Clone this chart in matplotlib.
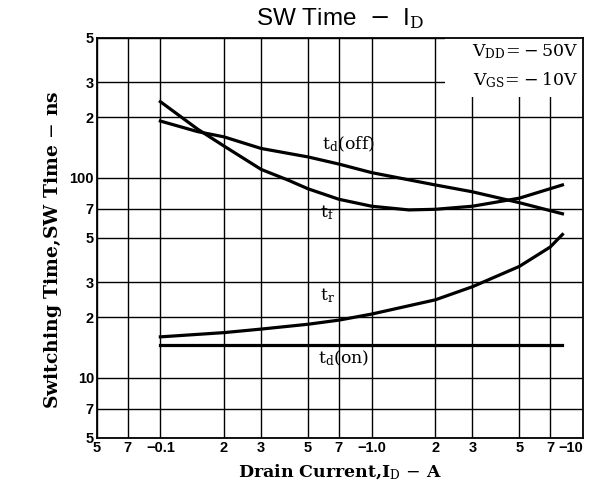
import matplotlib
matplotlib.use("Agg")
import matplotlib.pyplot as plt
from matplotlib.patches import Rectangle

# Switching time vs drain current (log-log)
id_off = [0.1, 0.15, 0.2, 0.3, 0.5, 0.7, 1.0, 2.0, 3.0, 5.0, 8.0]
td_off = [192, 170, 160, 140, 127, 117, 106, 92, 85, 75, 66]

id_f = [0.1, 0.15, 0.2, 0.3, 0.4, 0.5, 0.7, 1.0, 1.5, 2.0, 3.0, 5.0, 8.0]
t_f = [240, 175, 144, 110, 97.5, 88, 78, 72, 69, 69.5, 72, 79, 92]

id_r = [0.1, 0.2, 0.3, 0.5, 0.7, 1.0, 2.0, 3.0, 5.0, 7.0, 8.0]
t_r = [16.0, 16.8, 17.5, 18.5, 19.4, 20.8, 24.5, 28.5, 36, 45, 52]

id_on = [0.1, 8.0]
td_on = [14.5, 14.5]

xticks = [0.05, 0.07, 0.1, 0.2, 0.3, 0.5, 0.7, 1.0, 2, 3, 5, 7, 10]
xlabels = ["5", "7", "\u22120.1", "2", "3", "5", "7", "\u22121.0", "2", "3", "5", "7", "\u221210"]
yticks = [5, 7, 10, 20, 30, 50, 70, 100, 200, 300, 500]
ylabels = ["5", "7", "10", "2", "3", "5", "7", "100", "2", "3", "5"]

plt.rcParams['mathtext.fontset'] = 'dejavuserif'

fig = plt.figure(figsize=(5.9, 4.86), dpi=100)
ax = fig.add_axes([0.164, 0.099, 0.824, 0.823])
ax.set_xscale('log')
ax.set_yscale('log')
ax.set_xlim(0.05, 10)
ax.set_ylim(5, 500)

ax.set_xticks(xticks)
ax.set_xticklabels(xlabels, family='Liberation Sans', fontsize=10.5, fontweight='bold')
ax.get_xticklabels()[-1].set_horizontalalignment('right')
ax.set_yticks(yticks)
ax.set_yticklabels(ylabels, family='Liberation Sans', fontsize=10.5, fontweight='bold')
ax.minorticks_off()
ax.tick_params(length=0, pad=2)
ax.grid(True, color='black', lw=1.0)
for s in ax.spines.values():
    s.set_linewidth(1.3)

# blank patch behind the conditions text
ax.add_patch(Rectangle((0.716, 0.8525), 0.3, 0.2, transform=ax.transAxes,
                       facecolor='white', edgecolor='none', zorder=2.5))

lw = 2.3
ax.plot(id_off, td_off, color='black', lw=lw, zorder=3)
ax.plot(id_f, t_f, color='black', lw=lw, zorder=3)
ax.plot(id_r, t_r, color='black', lw=lw, zorder=3)
ax.plot(id_on, td_on, color='black', lw=lw, zorder=3)

tfont = dict(family='DejaVu Serif', fontsize=12.5, transform=ax.transAxes, va='center', zorder=4)
ax.text(0.463, 0.733, r'$\mathrm{t_d(off)}$', **tfont)
ax.text(0.459, 0.5625, r'$\mathrm{t_f}$', **tfont)
ax.text(0.459, 0.355, r'$\mathrm{t_r}$', **tfont)
ax.text(0.455, 0.2, r'$\mathrm{t_d(on)}$', **tfont)

ax.text(0.99, 0.965, r'$\mathrm{V_{DD}\!=\!-50V}$', ha='right', **tfont)
ax.text(0.99, 0.895, r'$\mathrm{V_{GS}\!=\!-10V}$', ha='right', **tfont)

fig.text(0.576, 0.962, r'SW Time  $-$  I$_\mathrm{D}$', family='Liberation Sans',
         fontsize=17.5, ha='center', va='center')
ax.set_xlabel(r'Drain Current,I$_\mathrm{D}$ $-$ A', family='DejaVu Serif',
              fontsize=12.5, fontweight='bold', labelpad=6)
ax.set_ylabel(r'Switching Time,SW Time $-$ ns', family='DejaVu Serif',
              fontsize=13.5, fontweight='bold')
ax.yaxis.set_label_coords(-0.068, 0.47)

fig.savefig('out.png', dpi=100)
